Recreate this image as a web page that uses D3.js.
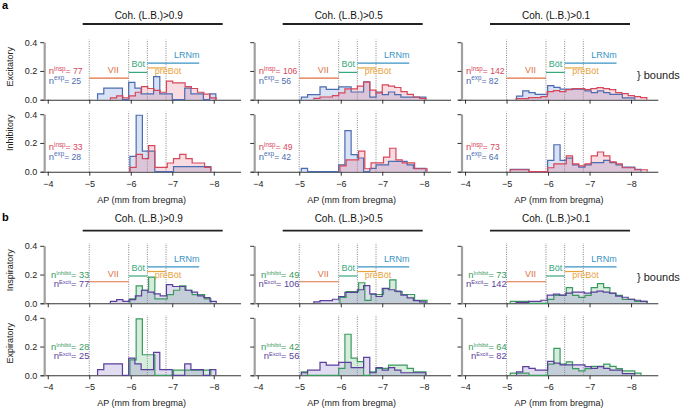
<!DOCTYPE html>
<html><head><meta charset="utf-8">
<script src="https://cdn.jsdelivr.net/npm/d3@7"></script>
<style>body{margin:0;background:#fff} svg{font-family:"Liberation Sans",Arial,sans-serif}</style>
</head><body><svg id="c" width="683" height="410"></svg>
<script>
// ---------------- data ----------------
const cohLabels = ["Coh. (L.B.)>0.9", "Coh. (L.B.)>0.5", "Coh. (L.B.)>0.1"];
const xTicks = [-4, -5, -6, -7, -8];
const yTicks = [0, 0.2, 0.4];
const binWidth = 0.15;

// excitatory, inspiratory-modulated
const nExcInsp = [77, 106, 142];
const excInspStart = [-5.51, -5.35, -5.23];
const excInspCounts = [
  [1, 2, 1, 2, 4, 7, 6, 5, 4, 10, 9, 9, 7, 6, 4, 3, 1],
  [1, 2, 2, 3, 5, 8, 8, 10, 13, 7, 5, 11, 10, 9, 6, 4, 2, 1],
  [1, 1, 2, 2, 3, 8, 9, 8, 10, 11, 11, 10, 11, 12, 11, 10, 7, 6, 4, 3, 2]
];
// excitatory, expiratory-modulated
const nExcExp = [25, 56, 82];
const excExpStart = [-5.2, -5.05, -5.24];
const excExpCounts = [
  [1, 2, 2, 2, 0, 3, 2, 1, 1, 4, 1, 1, 0, 0, 2, 1, 1, 0, 1],
  [1, 2, 2, 5, 4, 4, 5, 5, 3, 3, 7, 1, 3, 2, 3, 2, 1, 1, 1, 1],
  [2, 5, 4, 3, 3, 8, 7, 6, 6, 6, 6, 5, 4, 5, 4, 3, 3, 1, 1]
];
// inhibitory, inspiratory-modulated
const nInhInsp = [33, 49, 73];
const inhInspStart = [-5.98, -5.98, -5.09];
const inhInspCounts = [
  [1, 4, 3, 6, 1, 1, 2, 3, 4, 3, 2, 2, 1],
  [2, 4, 4, 7, 1, 3, 3, 5, 8, 4, 3, 3, 1, 1],
  [1, 1, 1, 0, 0, 0, 2, 4, 4, 8, 4, 3, 4, 8, 10, 8, 5, 4, 2, 2, 1, 1]
];
// inhibitory, expiratory-modulated
const nInhExp = [28, 42, 64];
const inhExpStart = [-5.98, -5.05, -5.09];
const inhExpCounts = [
  [3, 11, 4, 4, 0, 0, 0, 1, 1, 1, 1, 1, 1],
  [1, 0, 0, 0, 0, 0, 2, 12, 5, 4, 0, 1, 2, 2, 3, 3, 3, 2, 1, 1],
  [1, 1, 1, 0, 0, 0, 5, 12, 5, 6, 3, 2, 3, 4, 4, 5, 4, 3, 2, 2, 1]
];

// anatomical bounds (AP, mm)
const boundLines = [-5, -5.95, -6.4, -6.85];
const regionNames = ["VII", "Böt", "preBöt", "LRNm"];
const regionFrom = [-5, -5.95, -6.4, -6.4];
const regionTo = [-5.95, -6.4, -6.85, -7.65];
const regionLevel = [0.15, 0.19, 0.221, 0.254];

// ---------------- styles / layout ----------------
const regionColor = ["#e0703f", "#35a87c", "#e9a23b", "#3a93c4"];
const regionLabelAP = [-5.58, -6.18, -6.9, -7.35];
const regionLabelDy = [-5, -5, 6.5, -5];

const colX0 = [47.7, 257.7, 465];
const pxPerMm = 41.5;
const rowBase = [99.7, 171.7, 303.3, 375.3];
const rowH = 57.5;
const rowLabelOffset = [33, 39, 33, 32];

const svg = d3.select("#c");
const fmtMinus = d => (d < 0 ? "\u2212" : "") + Math.abs(d);

function xScale(c) {
  return d3.scaleLinear().domain([-3.83, -8.645])
    .range([colX0[c] - 7, colX0[c] - 7 + 4.815 * pxPerMm]);
}
function yScale(r) {
  return d3.scaleLinear().domain([0, 0.4]).range([rowBase[r], rowBase[r] - rowH]);
}

function histPath(x, y, start, counts, n) {
  const pts = [[start, 0]];
  counts.forEach((k, i) => {
    const a = start - i * binWidth, b = start - (i + 1) * binWidth;
    pts.push([a, k / n]); pts.push([b, k / n]);
  });
  pts.push([start - counts.length * binWidth, 0]);
  return d3.line().x(d => x(d[0])).y(d => y(d[1]))(pts);
}

const palettes = {
  red: {line: "#d6475b", fill: "rgba(232,118,140,0.26)"},
  blue: {line: "#4b6cb0", fill: "rgba(110,140,215,0.26)"},
  green: {line: "#3a9a5e", fill: "rgba(95,180,125,0.26)"},
  purple: {line: "#5a3f9b", fill: "rgba(150,128,205,0.28)"}
};

function drawPanel(c, r, series, showRegions, nText) {
  const x = xScale(c), y = yScale(r);
  const g = svg.append("g");
  const xa = g.append("g").attr("transform", `translate(0,${rowBase[r]})`)
    .call(d3.axisBottom(x).tickValues(xTicks).tickSize(4).tickSizeOuter(0)
      .tickFormat(r % 2 === 1 ? fmtMinus : ""));
  xa.select(".domain").attr("stroke", "#333").attr("stroke-width", 1.1);
  xa.selectAll(".tick line").attr("stroke", "#333");
  xa.selectAll(".tick text").attr("font-size", 9).attr("fill", "#222").attr("dy", "0.9em");
  const ya = g.append("g").attr("transform", `translate(${colX0[c] - 3.5},0)`)
    .call(d3.axisLeft(y).tickValues(yTicks).tickSize(4).tickSizeOuter(0)
      .tickFormat(c === 0 ? d3.format(".1f") : ""));
  ya.select(".domain").attr("stroke", "#a0a0a0").attr("stroke-width", 2.2);
  ya.selectAll(".tick line").attr("stroke", "#333");
  ya.selectAll(".tick text").attr("font-size", 9).attr("fill", "#222").attr("x", -7);
  g.selectAll(".bl").data(boundLines).join("line")
    .attr("x1", d => x(d)).attr("x2", d => x(d))
    .attr("y1", y(0)).attr("y2", y(0.418))
    .attr("stroke", "#777").attr("stroke-width", 0.9).attr("stroke-dasharray", "1,1.3");
  series.forEach(s => {
    g.append("path").attr("d", histPath(x, y, s.start, s.counts, s.n))
      .attr("fill", palettes[s.pal].fill).attr("stroke", "none");
  });
  series.forEach(s => {
    g.append("path").attr("d", histPath(x, y, s.start, s.counts, s.n))
      .attr("fill", "none").attr("stroke", palettes[s.pal].line).attr("stroke-width", 1.2);
  });
  if (showRegions) {
    regionNames.forEach((nm, i) => {
      g.append("line").attr("x1", x(regionFrom[i])).attr("x2", x(regionTo[i]))
        .attr("y1", y(regionLevel[i])).attr("y2", y(regionLevel[i]))
        .attr("stroke", regionColor[i]).attr("stroke-width", 1.2);
      g.append("text").attr("x", x(regionLabelAP[i])).attr("y", y(regionLevel[i]) + regionLabelDy[i])
        .attr("text-anchor", "middle").attr("font-size", 9).attr("fill", regionColor[i]).text(nm);
    });
  }
  nText.forEach(t => {
    const tx = g.append("text").attr("font-size", t.mainSize).attr("fill", t.color);
    if (t.anchorEnd) tx.attr("x", x(-5)).attr("text-anchor", "end");
    else tx.attr("x", colX0[c] + 1);
    tx.attr("y", rowBase[r] - t.dy);
    tx.append("tspan").attr("font-size", 9.5).text("n");
    tx.append("tspan").attr("font-size", t.supSize).attr("dy", -3.3).text(t.sup);
    tx.append("tspan").attr("dy", 3.3).text("= " + t.n);
  });
}

for (let c = 0; c < 3; c++) {
  const S = {
    excInsp: {start: excInspStart[c], counts: excInspCounts[c], n: nExcInsp[c]},
    excExp: {start: excExpStart[c], counts: excExpCounts[c], n: nExcExp[c]},
    inhInsp: {start: inhInspStart[c], counts: inhInspCounts[c], n: nInhInsp[c]},
    inhExp: {start: inhExpStart[c], counts: inhExpCounts[c], n: nInhExp[c]}
  };
  const red = "#d6475b", blue = "#4b6cb0", green = "#3a9a5e", purple = "#5a3f9b";
  drawPanel(c, 0, [{...S.excExp, pal: "blue"}, {...S.excInsp, pal: "red"}], true,
    [{sup: "insp", n: nExcInsp[c], color: red, dy: 25.5, supSize: 6.3, mainSize: 8.6},
     {sup: "exp", n: nExcExp[c], color: blue, dy: 16, supSize: 6.3, mainSize: 8.6}]);
  drawPanel(c, 1, [{...S.inhExp, pal: "blue"}, {...S.inhInsp, pal: "red"}], false,
    [{sup: "insp", n: nInhInsp[c], color: red, dy: 21.5, supSize: 6.3, mainSize: 8.6},
     {sup: "exp", n: nInhExp[c], color: blue, dy: 12, supSize: 6.3, mainSize: 8.6}]);
  drawPanel(c, 2, [{...S.inhInsp, pal: "green"}, {...S.excInsp, pal: "purple"}], true,
    [{sup: "Inhibit", n: nInhInsp[c], color: green, dy: 25.5, supSize: 5.6, mainSize: 9.2, anchorEnd: true},
     {sup: "Excit", n: nExcInsp[c], color: purple, dy: 16, supSize: 5.6, mainSize: 9.2, anchorEnd: true}]);
  drawPanel(c, 3, [{...S.inhExp, pal: "green"}, {...S.excExp, pal: "purple"}], false,
    [{sup: "Inhibit", n: nInhExp[c], color: green, dy: 25.5, supSize: 5.6, mainSize: 9.2, anchorEnd: true},
     {sup: "Excit", n: nExcExp[c], color: purple, dy: 16, supSize: 5.6, mainSize: 9.2, anchorEnd: true}]);
}

const titleBarX = [82.7, 282.7, 490];
const titleY = [15, 218.3];
const barY = [24, 230.7];
[0, 1].forEach(p => {
  cohLabels.forEach((t, c) => {
    svg.append("line").attr("x1", titleBarX[c]).attr("x2", titleBarX[c] + 140)
      .attr("y1", barY[p]).attr("y2", barY[p]).attr("stroke", "#222").attr("stroke-width", 1.8);
    svg.append("text").attr("x", titleBarX[c] + 66).attr("y", titleY[p] + 3.5)
      .attr("text-anchor", "middle").attr("font-size", 10).attr("fill", "#111").text(t);
  });
});
[1, 3].forEach(r => {
  for (let c = 0; c < 3; c++) {
    svg.append("text").attr("x", colX0[c] + 94).attr("y", rowBase[r] + 31)
      .attr("text-anchor", "middle").attr("font-size", 9).attr("fill", "#222")
      .text("AP (mm from bregma)");
  }
});
const rowLabels = ["Excitatory", "Inhibitory", "Inspiratory", "Expiratory"];
rowLabels.forEach((t, r) => {
  svg.append("text").attr("transform", `translate(13,${rowBase[r] - rowLabelOffset[r]}) rotate(-90)`)
    .attr("text-anchor", "middle").attr("font-size", 9).attr("fill", "#222").text(t);
});
svg.append("text").attr("x", 2).attr("y", 9).attr("font-size", 11).attr("font-weight", "bold").text("a");
svg.append("text").attr("x", 2).attr("y", 221).attr("font-size", 11).attr("font-weight", "bold").text("b");
[75, 277].forEach(yy => {
  svg.append("text").attr("x", 637).attr("y", yy + 3.5).attr("font-size", 11).attr("fill", "#222").text("} bounds");
});
</script></body></html>
